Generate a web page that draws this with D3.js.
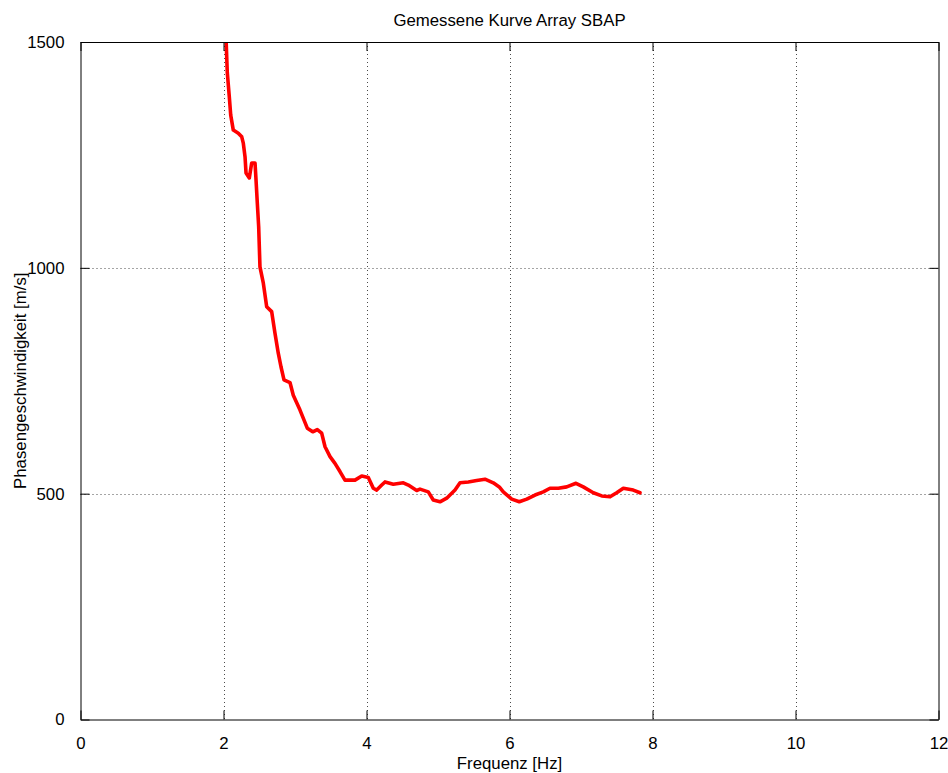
<!DOCTYPE html>
<html>
<head>
<meta charset="utf-8">
<script src="https://cdn.jsdelivr.net/npm/d3@7"></script>
<style>
  html, body { margin: 0; padding: 0; background: #fff; }
  text { font-family: "Liberation Sans", Arial, Helvetica, sans-serif; }
</style>
</head>
<body>
<svg id="chart" width="948" height="773"></svg>
<script>
const freq = [2.035, 2.053, 2.081, 2.101, 2.137, 2.207, 2.255, 2.277, 2.301, 2.315, 2.361, 2.394, 2.441, 2.455, 2.473, 2.492, 2.510, 2.557, 2.604, 2.674, 2.720, 2.766, 2.804, 2.846, 2.930, 2.976, 3.070, 3.172, 3.248, 3.312, 3.373, 3.420, 3.490, 3.559, 3.629, 3.699, 3.839, 3.933, 4.025, 4.095, 4.143, 4.213, 4.259, 4.375, 4.515, 4.585, 4.702, 4.748, 4.864, 4.934, 5.028, 5.122, 5.238, 5.308, 5.424, 5.541, 5.657, 5.773, 5.857, 5.913, 6.031, 6.137, 6.241, 6.357, 6.473, 6.566, 6.683, 6.800, 6.930, 7.032, 7.172, 7.290, 7.406, 7.499, 7.592, 7.731, 7.825];
const velocity = [1510, 1432, 1379, 1338, 1305, 1298, 1290, 1276, 1246, 1210, 1199, 1232, 1232, 1194, 1143, 1091, 1002, 966, 914, 903, 855, 811, 781, 752, 746, 718, 685, 645, 637, 642, 634, 604, 582, 567, 549, 530, 530, 539, 536, 512, 508, 519, 526, 521, 524, 519, 507, 510, 504, 486, 482, 490, 508, 524, 526, 529, 532, 524, 515, 504, 488, 482, 488, 497, 504, 512, 512, 515, 523, 515, 502, 495, 493, 502, 512, 508, 502];
const xTicks = [0, 2, 4, 6, 8, 10, 12];
const yTicks = [0, 500, 1000, 1500];
const titleText = "Gemessene Kurve Array SBAP";
const xLabel = "Frequenz [Hz]";
const yLabel = "Phasengeschwindigkeit [m/s]";

const svg = d3.select("#chart");
const L = 80.5, R = 938.5, T = 42, B = 719.5;
const x = d3.scaleLinear().domain([0, 12]).range([L, R]);
const y = d3.scaleLinear().domain([0, 1500]).range([B, T]);
const tickLen = 9;
const fs = "16.8px";

// grid
const grid = svg.append("g").attr("stroke", "#000").attr("stroke-width", 1)
  .attr("stroke-dasharray", "1,3").attr("opacity", 0.7);
xTicks.filter(t => t > 0 && t < 12).forEach(t => {
  grid.append("line").attr("x1", Math.round(x(t)) + 0.5).attr("x2", Math.round(x(t)) + 0.5)
    .attr("y1", T).attr("y2", B);
});
yTicks.filter(t => t > 0 && t < 1500).forEach(t => {
  grid.append("line").attr("y1", Math.round(y(t)) + 0.5).attr("y2", Math.round(y(t)) + 0.5)
    .attr("x1", L).attr("x2", R);
});

// curve
svg.append("clipPath").attr("id", "clip").append("rect")
  .attr("x", L).attr("y", T).attr("width", R - L).attr("height", B - T);
const data = freq.map((f, i) => [f, velocity[i]]);
svg.append("path").datum(data)
  .attr("clip-path", "url(#clip)")
  .attr("fill", "none").attr("stroke", "#ff0000").attr("stroke-width", 3.6)
  .attr("stroke-linejoin", "round").attr("stroke-linecap", "round")
  .attr("d", d3.line().x(d => x(d[0])).y(d => y(d[1])));

// axes (MATLAB style, inward ticks on all sides)
const fmt = d3.format("d");
const xb = svg.append("g").attr("transform", `translate(0,${B})`)
  .call(d3.axisBottom(x).tickValues(xTicks).tickFormat(fmt).tickSizeInner(-tickLen).tickSizeOuter(0).tickPadding(18));
const xt = svg.append("g").attr("transform", `translate(0,${T})`)
  .call(d3.axisTop(x).tickValues(xTicks).tickFormat("").tickSizeInner(-tickLen).tickSizeOuter(0));
const yl = svg.append("g").attr("transform", `translate(${L},0)`)
  .call(d3.axisLeft(y).tickValues(yTicks).tickFormat(fmt).tickSizeInner(-tickLen).tickSizeOuter(0).tickPadding(16));
const yr = svg.append("g").attr("transform", `translate(${R},0)`)
  .call(d3.axisRight(y).tickValues(yTicks).tickFormat("").tickSizeInner(-tickLen).tickSizeOuter(0));
[xb, xt, yl, yr].forEach(g => {
  g.selectAll(".domain").attr("stroke", "#000").attr("stroke-width", 1);
  g.selectAll(".tick line").attr("stroke", "#000");
  g.selectAll("text").attr("fill", "#000").style("font-size", fs)
    .style("font-family", '"Liberation Sans", Arial, sans-serif');
});

// labels
svg.append("text").attr("x", (L + R) / 2).attr("y", 26).attr("text-anchor", "middle")
  .style("font-size", fs).text(titleText);
svg.append("text").attr("x", (L + R) / 2).attr("y", 769).attr("text-anchor", "middle")
  .style("font-size", fs).text(xLabel);
svg.append("text").attr("transform", `translate(26,${(T + B) / 2}) rotate(-90)`)
  .attr("text-anchor", "middle").style("font-size", fs).text(yLabel);
</script>
</body>
</html>
